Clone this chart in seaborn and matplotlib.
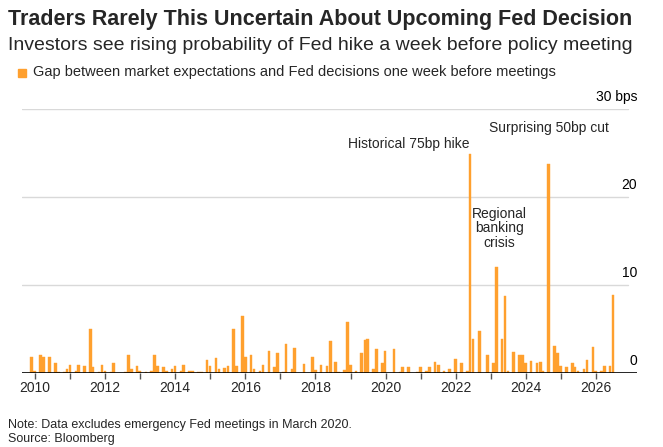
import matplotlib
matplotlib.use("Agg")
import matplotlib.pyplot as plt
import matplotlib.transforms as mtrans
import seaborn as sns
import pandas as pd

dates = [2009.905, 2009.99, 2010.16, 2010.25, 2010.42, 2010.58, 2010.67, 2010.84, 2010.91, 2011.0,
         2011.17, 2011.25, 2011.42, 2011.58, 2011.66, 2011.83, 2011.91, 2012.0, 2012.17, 2012.24,
         2012.58, 2012.66, 2012.75, 2012.91, 2012.99, 2013.17, 2013.33, 2013.40, 2013.49, 2013.66,
         2013.75, 2013.91, 2013.99, 2014.16, 2014.24, 2014.41, 2014.49, 2014.66, 2014.75, 2014.91,
         2014.99, 2015.16, 2015.25, 2015.41, 2015.50, 2015.66, 2015.74, 2015.92, 2016.0, 2016.16,
         2016.25, 2016.42, 2016.50, 2016.67, 2016.83, 2016.91, 2017.09, 2017.16, 2017.33, 2017.41,
         2017.67, 2017.91, 2018.0, 2018.16, 2018.33, 2018.42, 2018.58, 2018.66,
         2018.82, 2018.91, 2018.99, 2019.16, 2019.32, 2019.41, 2019.49, 2019.66, 2019.74, 2019.91,
         2019.98, 2020.24, 2020.41, 2020.49, 2020.66, 2020.91, 2020.99, 2021.16, 2021.25, 2021.41,
         2021.50, 2021.67, 2021.83, 2021.99, 2022.16, 2022.33, 2022.41, 2022.49, 2022.67, 2022.90,
         2023.07, 2023.16, 2023.32, 2023.41, 2023.49, 2023.65, 2023.82, 2023.91, 2023.99, 2024.15,
         2024.32, 2024.41, 2024.48, 2024.65, 2024.82, 2024.91, 2024.99, 2025.16, 2025.33, 2025.40,
         2025.49, 2025.66, 2025.74, 2025.91, 2025.99, 2026.16, 2026.24, 2026.40, 2026.49]
gap_bps = [1.8, 0.2, 2.0, 1.8, 1.8, 1.1, 0.15, 0.1, 0.5, 0.9,
           0.2, 0.9, 0.8, 5.0, 0.7, 0.15, 0.9, 0.2, 0.15, 1.1,
           0.15, 2.0, 0.5, 0.8, 0.2, 0.15, 0.2, 2.0, 0.8, 0.7,
           0.2, 0.5, 0.8, 0.2, 0.9, 0.2, 0.2, 0.1, 0.1, 1.5,
           0.8, 1.7, 0.5, 0.6, 0.8, 5.0, 0.8, 6.5, 1.8, 2.0,
           0.5, 0.2, 0.9, 2.5, 0.7, 2.3, 0.1, 3.3, 0.5, 2.8,
           1.0, 1.8, 0.3, 0.9, 0.8, 3.6, 1.3, 0.15,
           0.3, 5.8, 0.9, 0.2, 2.3, 3.7, 3.9, 0.5, 2.7, 1.1,
           2.5, 2.7, 0.15, 0.7, 0.7, 0.15, 0.7, 0.2, 0.7, 1.25,
           0.9, 0.2, 0.5, 1.6, 1.1, 0.2, 24.9, 3.9, 4.8, 2.1,
           1.1, 12.1, 3.9, 8.8, 0.2, 2.4, 2.0, 2.0, 1.1, 1.4,
           1.1, 1.3, 0.2, 23.7, 3.1, 2.3, 0.8, 0.7, 1.1, 0.7,
           0.2, 0.5, 1.5, 3.0, 0.2, 0.2, 0.8, 0.8, 8.9]

df = pd.DataFrame({"date": dates, "gap": gap_bps})
orange = "#FFA02E"

sns.set_theme(style="white")
plt.rcParams["font.family"] = ["Liberation Sans", "DejaVu Sans"]

fig = plt.figure(figsize=(6.63, 4.47), dpi=100)
ax = fig.add_axes([22/663, 74/447, (637-22)/663, (373-109)/447])

ax.bar(df["date"], df["gap"], width=0.075, color=orange, edgecolor=orange, linewidth=0.3)
ax.set_xlim(2009.63, 2027.17)
ax.set_ylim(0, 30)

for v in [10, 20, 30]:
    ax.axhline(v, color="#d9d9d9", lw=1, zorder=0, xmax=0.985)
ax.axhline(0, color="black", lw=1.2, zorder=3)

trans = mtrans.blended_transform_factory(ax.transAxes, ax.transData)
for v, lab in [(0, "0"), (10, "10"), (20, "20"), (30, "30 bps")]:
    ax.text(1.0, v + 0.6, lab, transform=trans, ha="right", va="bottom", fontsize=10, color="black")

ax.set_yticks([])
ax.set_xticks(range(2010, 2027))
ax.set_xticklabels([str(y) if y % 2 == 0 else "" for y in range(2010, 2027)], fontsize=10)
ax.tick_params(axis="x", length=4, width=1, color="#555555", bottom=True, pad=2)
for s in ax.spines.values():
    s.set_visible(False)

ax.text(2022.4, 25.2, "Historical 75bp hike", ha="right", va="bottom", fontsize=10)
ax.text(2024.65, 27.0, "Surprising 50bp cut", ha="center", va="bottom", fontsize=10)
ax.text(2023.25, 14.0, "Regional\nbanking\ncrisis", ha="center", va="bottom", fontsize=10, linespacing=1.05)

fig.text(8/663, 1 - 19/447, "Traders Rarely This Uncertain About Upcoming Fed Decision",
         fontsize=15.5, fontweight="bold", va="center")
fig.text(8/663, 1 - 46/447, "Investors see rising probability of Fed hike a week before policy meeting",
         fontsize=14, va="center")
fig.patches.append(plt.Rectangle((18/663, 1 - 77/447), 8/663, 8/447, color=orange, transform=fig.transFigure))
fig.text(33/663, 1 - 72/447, "Gap between market expectations and Fed decisions one week before meetings",
         fontsize=10.5, va="center")
fig.text(8/663, 1 - 425/447, "Note: Data excludes emergency Fed meetings in March 2020.", fontsize=9, va="center")
fig.text(8/663, 1 - 439/447, "Source: Bloomberg", fontsize=9, va="center")

fig.savefig("out.png", dpi=100)
